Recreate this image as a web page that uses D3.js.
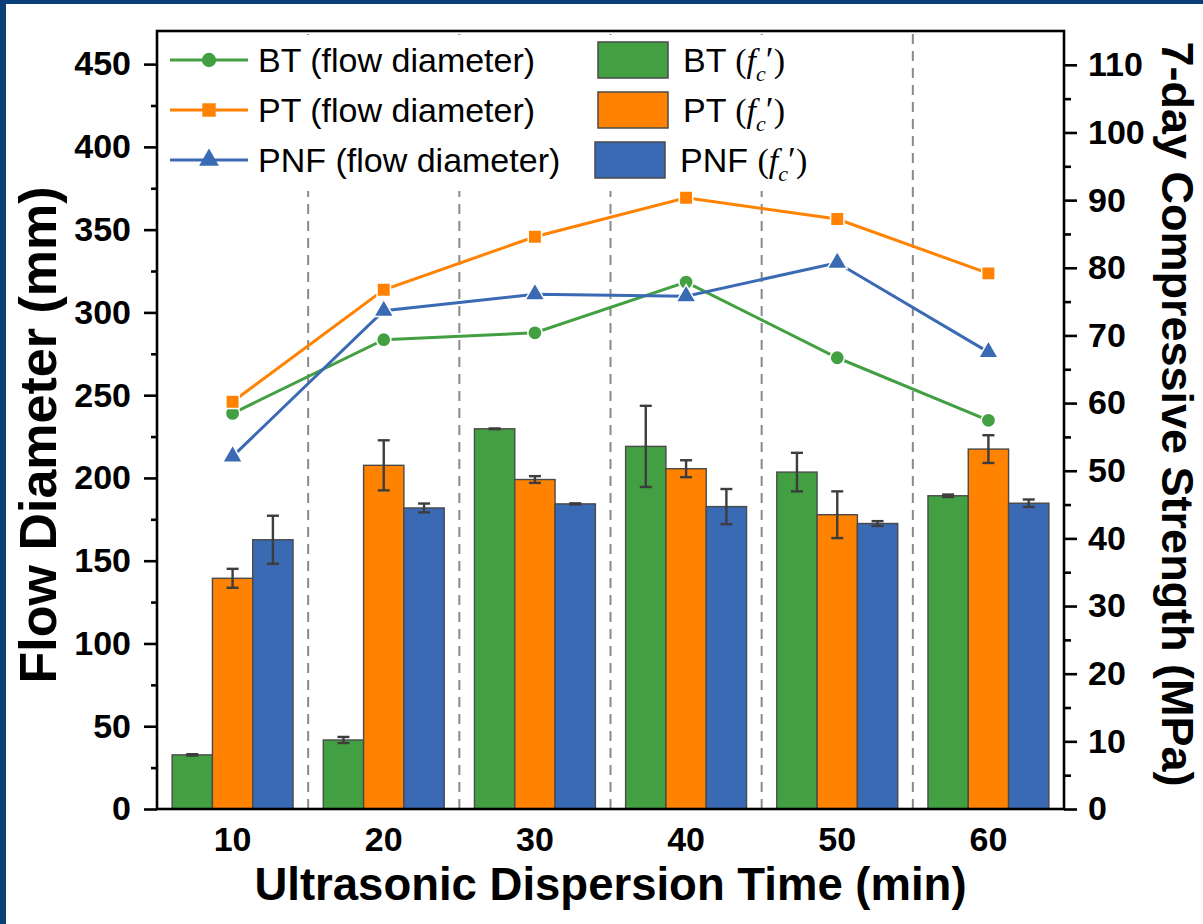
<!DOCTYPE html>
<html lang="en">
  <head>
    <meta charset="utf-8">
    <title>Flow diameter and compressive strength</title>
    <script src="https://cdn.jsdelivr.net/npm/d3@7"></script>
    <style>
      body { margin: 0; background: #ffffff; }
      svg { display: block; }
    </style>
  </head>
  <body>
    <script>

      /*
      DATA
       */

      const times = [10, 20, 30, 40, 50, 60];
      const series = ["BT", "PT", "PNF"];

      // flow diameter (mm), left axis
      const flowBT = [239, 283.5, 287.7, 318.3, 272.6, 234.8];
      const flowPT = [246, 313.7, 345.7, 369.3, 356.4, 323.6];
      const flowPNF = [213, 301, 311, 309.8, 330, 276];

      // 7-day compressive strength (MPa), right axis
      const fcBT = [8.0, 10.2, 56.2, 53.6, 49.8, 46.3];
      const fcPT = [34.1, 50.8, 48.7, 50.3, 43.5, 53.2];
      const fcPNF = [39.8, 44.5, 45.1, 44.7, 42.2, 45.2];
      const fcBTErr = [0.1, 0.45, 0.05, 6.0, 2.85, 0.18];
      const fcPTErr = [1.4, 3.7, 0.5, 1.25, 3.45, 2.05];
      const fcPNFErr = [3.55, 0.65, 0.08, 2.6, 0.35, 0.55];

      const leftTicks = d3.range(0, 451, 50);
      const leftMinor = d3.range(25, 450, 50);
      const rightTicks = d3.range(0, 111, 10);
      const rightMinor = d3.range(5, 110, 10);

      const COLORS = {BT: "#43a042", PT: "#ff8200", PNF: "#3a6ab4"};

      /* layout */
      const W = 1203, H = 924;
      const X0 = 157, X1 = 1064;
      const Y_TOP = 31, Y_BOT = 809;
      const FONT = "'Liberation Sans', Arial, Helvetica, sans-serif";
      const SERIF = "'Liberation Serif', 'Times New Roman', serif";
      const AXIS_W = 2.6;

      let svg = d3.select("body").append("svg")
        .attr("width", W)
        .attr("height", H);

      svg.append("rect").attr("width", W).attr("height", H).attr("fill", "#ffffff");
      // dark blue slide border (left + top)
      svg.append("rect").attr("x", 0).attr("y", 0).attr("width", 6).attr("height", H).attr("fill", "#0b3f78");
      svg.append("rect").attr("x", 0).attr("y", 0).attr("width", W).attr("height", 4).attr("fill", "#0b3f78");

      /* scales */
      let x = d3.scaleBand().domain(times).range([X0, X1]).padding(0);
      let bw = x.bandwidth();
      let xs = d3.scaleBand().domain(series).range([bw * 0.1, bw * 0.9]).padding(0);
      let yL = d3.scaleLinear().domain([0, 470]).range([Y_BOT, Y_TOP]);
      let yR = d3.scaleLinear().domain([0, 115]).range([Y_BOT, Y_TOP]);

      /* dashed separators */
      svg.append("g").selectAll("line")
        .data(times.slice(1))
        .join("line")
        .attr("x1", d => x(d)).attr("x2", d => x(d))
        .attr("y1", Y_TOP + 3).attr("y2", Y_BOT)
        .attr("stroke", "#8a8a8a")
        .attr("stroke-width", 2)
        .attr("stroke-dasharray", "10,7");

      // legend background hides the separators behind it
      svg.append("rect")
        .attr("x", 162).attr("y", Y_TOP + 4)
        .attr("width", 640).attr("height", 156)
        .attr("fill", "#ffffff");

      /* bars */
      const barData = [
        {key: "BT", vals: fcBT, errs: fcBTErr},
        {key: "PT", vals: fcPT, errs: fcPTErr},
        {key: "PNF", vals: fcPNF, errs: fcPNFErr}
      ];

      let g_bars = svg.append("g");
      barData.forEach(function(s){
        let rows = times.map((t, i) => ({t: t, v: s.vals[i], e: s.errs[i]}));
        let cx = d => x(d.t) + xs(s.key) + xs.bandwidth() / 2;

        g_bars.append("g").selectAll("rect")
          .data(rows)
          .join("rect")
          .attr("x", d => x(d.t) + xs(s.key))
          .attr("y", d => yR(d.v))
          .attr("width", xs.bandwidth())
          .attr("height", d => Y_BOT - yR(d.v))
          .attr("fill", COLORS[s.key])
          .attr("stroke", "#4a4a4a")
          .attr("stroke-width", 1.4);

        let eb = g_bars.append("g")
          .attr("stroke", "#3d3d3d")
          .attr("stroke-width", 2.4);
        eb.selectAll("line.v").data(rows).join("line").attr("class", "v")
          .attr("x1", cx).attr("x2", cx)
          .attr("y1", d => yR(d.v + d.e)).attr("y2", d => yR(d.v - d.e));
        eb.selectAll("line.t").data(rows).join("line").attr("class", "t")
          .attr("x1", d => cx(d) - 6).attr("x2", d => cx(d) + 6)
          .attr("y1", d => yR(d.v + d.e)).attr("y2", d => yR(d.v + d.e));
        eb.selectAll("line.b").data(rows).join("line").attr("class", "b")
          .attr("x1", d => cx(d) - 6).attr("x2", d => cx(d) + 6)
          .attr("y1", d => yR(d.v - d.e)).attr("y2", d => yR(d.v - d.e));
      });

      /* lines + markers */
      const lineData = [
        {key: "BT", vals: flowBT, sym: d3.symbolCircle, size: 160},
        {key: "PT", vals: flowPT, sym: d3.symbolSquare, size: 180},
        {key: "PNF", vals: flowPNF, sym: d3.symbolTriangle, size: 170}
      ];

      let line = d3.line()
        .x((d, i) => x(times[i]) + bw / 2)
        .y(d => yL(d));

      let g_lines = svg.append("g");
      lineData.forEach(function(s){
        g_lines.append("path")
          .datum(s.vals)
          .attr("d", line)
          .attr("fill", "none")
          .attr("stroke", COLORS[s.key])
          .attr("stroke-width", 3);
      });
      lineData.forEach(function(s){
        g_lines.append("g").selectAll("path")
          .data(s.vals)
          .join("path")
          .attr("transform", (d, i) => "translate(" + (x(times[i]) + bw / 2) + "," + yL(d) + ")")
          .attr("d", d3.symbol().type(s.sym).size(s.size))
          .attr("fill", COLORS[s.key])
          .attr("stroke", "#ffffff")
          .attr("stroke-width", 1.5);
      });

      /* axes */
      function style_axis(g, size){
        g.select(".domain").remove();
        g.selectAll(".tick line").attr("stroke", "#000").attr("stroke-width", AXIS_W);
        g.selectAll("text")
          .attr("fill", "#000")
          .attr("font-family", FONT)
          .attr("font-weight", "bold")
          .attr("font-size", size);
      }

      let gl = svg.append("g").attr("transform", "translate(" + X0 + ",0)")
        .call(d3.axisLeft(yL).tickValues(leftTicks).tickSize(13).tickPadding(13).tickSizeOuter(0));
      style_axis(gl, 34);
      let glm = svg.append("g").attr("transform", "translate(" + X0 + ",0)")
        .call(d3.axisLeft(yL).tickValues(leftMinor).tickSize(6).tickFormat(""));
      style_axis(glm, 34);

      let gr = svg.append("g").attr("transform", "translate(" + X1 + ",0)")
        .call(d3.axisRight(yR).tickValues(rightTicks).tickSize(13).tickPadding(11).tickSizeOuter(0));
      style_axis(gr, 34);
      let grm = svg.append("g").attr("transform", "translate(" + X1 + ",0)")
        .call(d3.axisRight(yR).tickValues(rightMinor).tickSize(7).tickFormat(""));
      style_axis(grm, 34);

      let gb = svg.append("g").attr("transform", "translate(0," + Y_BOT + ")")
        .call(d3.axisBottom(x).tickSize(0).tickPadding(18));
      style_axis(gb, 34);

      // frame
      svg.append("rect")
        .attr("x", X0).attr("y", Y_TOP)
        .attr("width", X1 - X0).attr("height", Y_BOT - Y_TOP)
        .attr("fill", "none")
        .attr("stroke", "#000")
        .attr("stroke-width", AXIS_W);

      /* titles */
      svg.append("text")
        .attr("x", (X0 + X1) / 2).attr("y", 900)
        .attr("text-anchor", "middle")
        .attr("font-family", FONT).attr("font-weight", "bold").attr("font-size", 45.5)
        .text("Ultrasonic Dispersion Time (min)");

      svg.append("text")
        .attr("transform", "translate(56,435) rotate(-90)")
        .attr("text-anchor", "middle")
        .attr("font-family", FONT).attr("font-weight", "bold").attr("font-size", 52)
        .text("Flow Diameter (mm)");

      svg.append("text")
        .attr("transform", "translate(1162,414) rotate(90)")
        .attr("text-anchor", "middle")
        .attr("font-family", FONT).attr("font-weight", "bold").attr("font-size", 45)
        .text("7-day Compressive Strength (MPa)");

      /* legend */
      const LEG_ROWS = [60, 110, 160];
      let g_leg = svg.append("g");

      lineData.forEach(function(s, i){
        let y = LEG_ROWS[i];
        g_leg.append("line")
          .attr("x1", 170).attr("x2", 248).attr("y1", y).attr("y2", y)
          .attr("stroke", COLORS[s.key]).attr("stroke-width", 3);
        g_leg.append("path")
          .attr("transform", "translate(209," + y + ")")
          .attr("d", d3.symbol().type(s.sym).size(s.size))
          .attr("fill", COLORS[s.key]);
        g_leg.append("text")
          .attr("x", 258).attr("y", y + 12)
          .attr("font-family", FONT).attr("font-size", 34)
          .text(s.key + " (flow diameter)");
      });

      barData.forEach(function(s, i){
        let y = LEG_ROWS[i];
        let sx = s.key === "PNF" ? 595 : 598;
        g_leg.append("rect")
          .attr("x", sx).attr("y", y - 18)
          .attr("width", 70).attr("height", 36)
          .attr("fill", COLORS[s.key])
          .attr("stroke", "#4a4a4a").attr("stroke-width", 1.5);
        let t = g_leg.append("text")
          .attr("x", sx + 85).attr("y", y + 12)
          .attr("font-family", FONT).attr("font-size", 34);
        t.append("tspan").text(s.key + " ");
        t.append("tspan").attr("font-family", SERIF).text("(");
        t.append("tspan").attr("font-family", SERIF).attr("font-style", "italic").text("f");
        t.append("tspan").attr("font-family", SERIF).attr("font-style", "italic")
          .attr("font-size", 22).attr("dy", 9).text("c");
        t.append("tspan").attr("font-family", SERIF).attr("font-size", 36)
          .attr("dy", -9).text("\u2032");
        t.append("tspan").attr("font-family", SERIF).text(")");
      });

    </script>
  </body>
</html>
